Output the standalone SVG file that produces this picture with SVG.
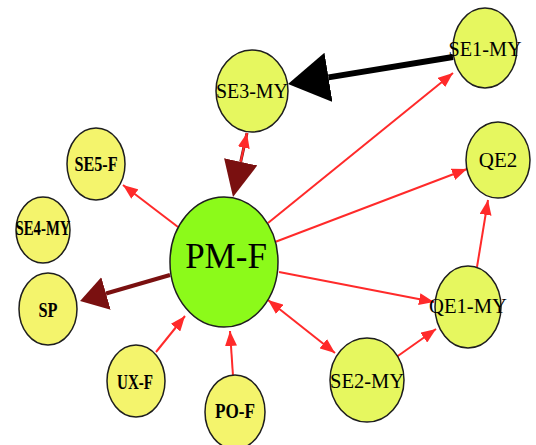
<svg xmlns="http://www.w3.org/2000/svg" width="536" height="445" viewBox="0 0 536 445">
  <style>
    .node { stroke: #1e1e1e; stroke-width: 1.5; }
    .hub { fill: #8cfa1a; }
    .my { fill: #e6f75f; }
    .fn { fill: #f4f46c; }
    .lbl { font-family: "Liberation Serif", "Times New Roman", serif; font-size: 21px; fill: #000; text-anchor: middle; }
    .lbl.b { font-weight: bold; }
    .lbl.big { font-size: 35px; }
    .e { fill: none; stroke: #ff2a2a; stroke-width: 2; }
    .e.fwd { marker-end: url(#ah); }
    .e.both { marker-start: url(#ah); marker-end: url(#ah); }
    .heavy-dark { fill: none; stroke: #7a1010; stroke-width: 4; }
    .heavy-black { fill: none; stroke: #000; stroke-width: 6; }
  </style>
  <defs>
    <marker id="ah" markerUnits="userSpaceOnUse" markerWidth="16" markerHeight="12" refX="15" refY="6" orient="auto-start-reverse">
      <path d="M0,0 L15,6 L0,12 z" fill="#ff2a2a"/>
    </marker>
    <marker id="ahDark" markerUnits="userSpaceOnUse" markerWidth="36" markerHeight="34" refX="0" refY="17" orient="auto">
      <path d="M0,0 L36,17 L0,34 z" fill="#7a1010"/>
    </marker>
    <marker id="ahDarkSm" markerUnits="userSpaceOnUse" markerWidth="28" markerHeight="34" refX="0" refY="17" orient="auto">
      <path d="M0,0 L27,17 L0,34 z" fill="#7a1010"/>
    </marker>
    <marker id="ahBlack" markerUnits="userSpaceOnUse" markerWidth="42" markerHeight="50" refX="0" refY="25" orient="auto">
      <path d="M0,0 L41,25 L0,50 z" fill="#000"/>
    </marker>
  </defs>

  <g id="edges">
    <!-- PM-F out to the right and left -->
    <line class="e fwd" x1="178" y1="227" x2="123" y2="185"/>
    <line class="e fwd" x1="268" y1="223" x2="453" y2="73"/>
    <line class="e fwd" x1="275" y1="242" x2="467" y2="169"/>
    <line class="e fwd" x1="279" y1="272" x2="434" y2="302"/>
    <line class="e both" x1="268" y1="300" x2="335" y2="353"/>
    <!-- into PM-F -->
    <line class="e fwd" x1="156" y1="352" x2="185" y2="316"/>
    <line class="e fwd" x1="233" y1="376" x2="230" y2="331"/>
    <!-- QE chain -->
    <line class="e fwd" x1="395" y1="358" x2="436" y2="329"/>
    <line class="e fwd" x1="477" y1="267" x2="488" y2="200"/>
    <!-- PM-F / SE3-MY pair -->
    <line class="heavy-dark" x1="247" y1="133" x2="240.7" y2="161.8" style="stroke-width:3" marker-end="url(#ahDark)"/>
    <line class="e fwd" x1="240.7" y1="161.8" x2="247" y2="133"/>
    <!-- PM-F to SP -->
    <line class="heavy-dark" x1="170" y1="275" x2="106" y2="293.5" marker-end="url(#ahDarkSm)"/>
    <!-- SE1-MY to SE3-MY -->
    <line class="heavy-black" x1="453" y1="57" x2="328.5" y2="77.4" marker-end="url(#ahBlack)"/>
  </g>

  <g id="PM-F">
    <ellipse class="node hub" cx="224" cy="262" rx="54" ry="65"/>
    <text class="lbl big" x="226" y="268">PM-F</text>
  </g>
  <g id="SE3-MY">
    <ellipse class="node my" cx="252" cy="91" rx="36" ry="41"/>
    <text class="lbl" x="252" y="98" style="font-size:22px" textLength="72" lengthAdjust="spacingAndGlyphs">SE3-MY</text>
  </g>
  <g id="SE1-MY">
    <ellipse class="node my" cx="485" cy="48" rx="32" ry="40"/>
    <text class="lbl" x="485" y="56" style="font-size:22px" textLength="73" lengthAdjust="spacingAndGlyphs">SE1-MY</text>
  </g>
  <g id="QE2">
    <ellipse class="node my" cx="498" cy="160" rx="32" ry="38"/>
    <text class="lbl" x="498" y="167">QE2</text>
  </g>
  <g id="QE1-MY">
    <ellipse class="node my" cx="468" cy="307" rx="33" ry="41"/>
    <text class="lbl" x="468" y="313" textLength="78" lengthAdjust="spacingAndGlyphs">QE1-MY</text>
  </g>
  <g id="SE2-MY">
    <ellipse class="node my" cx="367" cy="380" rx="37" ry="42"/>
    <text class="lbl" x="367" y="388" style="font-size:22px" textLength="74" lengthAdjust="spacingAndGlyphs">SE2-MY</text>
  </g>
  <g id="SE5-F">
    <ellipse class="node fn" cx="96" cy="164" rx="29" ry="36"/>
    <text class="lbl b" x="96" y="171" textLength="43" lengthAdjust="spacingAndGlyphs">SE5-F</text>
  </g>
  <g id="SE4-MY">
    <ellipse class="node fn" cx="43" cy="230" rx="27" ry="33"/>
    <text class="lbl b" x="43" y="235" style="font-size:20px" textLength="55" lengthAdjust="spacingAndGlyphs">SE4-MY</text>
  </g>
  <g id="SP">
    <ellipse class="node fn" cx="48" cy="309" rx="29" ry="36"/>
    <text class="lbl b" x="48" y="317" textLength="19" lengthAdjust="spacingAndGlyphs">SP</text>
  </g>
  <g id="UX-F">
    <ellipse class="node fn" cx="136" cy="381" rx="29" ry="36"/>
    <text class="lbl b" x="135" y="389" textLength="36" lengthAdjust="spacingAndGlyphs">UX-F</text>
  </g>
  <g id="PO-F">
    <ellipse class="node fn" cx="235" cy="412" rx="30" ry="37"/>
    <text class="lbl b" x="235" y="418" textLength="40" lengthAdjust="spacingAndGlyphs">PO-F</text>
  </g>
</svg>
